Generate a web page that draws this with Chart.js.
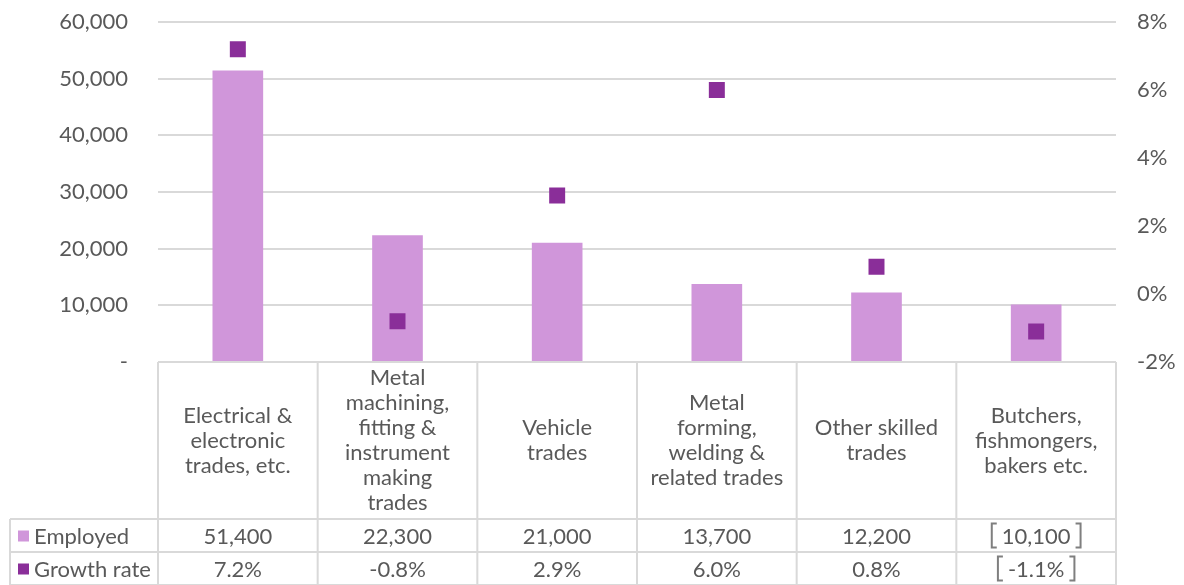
<!DOCTYPE html>
<html lang="en">
<head>
  <meta charset="UTF-8" />
  <title>Skilled trades - employment and growth</title>
  <script src="https://cdn.jsdelivr.net/npm/chart.js"></script>
  <style>
    body { margin: 0; background: #fff; }
    #wrap { width: 1184px; height: 585px; }
  </style>
</head>
<body>
  <div id="wrap"><canvas id="chart"></canvas></div>

  <script>
    // Datos
    const categories = [
      ['Electrical &', 'electronic', 'trades, etc.'],
      ['Metal', 'machining,', 'fitting &', 'instrument', 'making', 'trades'],
      ['Vehicle', 'trades'],
      ['Metal', 'forming,', 'welding &', 'related trades'],
      ['Other skilled', 'trades'],
      ['Butchers,', 'fishmongers,', 'bakers etc.']
    ];
    const employed = [51400, 22300, 21000, 13700, 12200, 10100];
    const growthRate = [7.2, -0.8, 2.9, 6.0, 0.8, -1.1];
    const bracketed = [false, false, false, false, false, true];  // valores entre corchetes
    const leftTicks = [0, 10000, 20000, 30000, 40000, 50000, 60000];
    const rightTicks = [-2, 0, 2, 4, 6, 8];

    const BAR_COLOR = '#D096DA';
    const POINT_COLOR = '#8A2E99';
    const GRID = '#D9D9D9';
    const TEXT = '#595959';
    const FONT = 'Lato, "Open Sans", sans-serif';
    const SIZE = 22;

    // tabla de datos debajo del grafico
    const dataTable = {
      id: 'dataTable',
      afterDraw(chart) {
        const ctx = chart.ctx;
        const x = chart.scales.x;
        const area = chart.chartArea;
        const top = area.bottom;
        const row1 = 519, row2 = 552, bottom = 585;
        const legendLeft = 10;
        const half = (x.getPixelForValue(1) - x.getPixelForValue(0)) / 2;

        ctx.save();
        ctx.strokeStyle = GRID;
        ctx.lineWidth = 2;
        ctx.beginPath();
        // lineas horizontales
        ctx.moveTo(area.left, top); ctx.lineTo(area.right, top);
        ctx.moveTo(legendLeft, row1); ctx.lineTo(area.right, row1);
        ctx.moveTo(legendLeft, row2); ctx.lineTo(area.right, row2);
        ctx.moveTo(legendLeft, bottom); ctx.lineTo(area.right, bottom);
        // lineas verticales
        ctx.moveTo(legendLeft, row1); ctx.lineTo(legendLeft, bottom);
        for (let i = 0; i <= categories.length; i++) {
          const px = x.getPixelForValue(0) - half + i * 2 * half;
          ctx.moveTo(px, top); ctx.lineTo(px, bottom);
        }
        ctx.stroke();

        ctx.fillStyle = TEXT;
        ctx.font = SIZE + 'px ' + FONT;
        ctx.textAlign = 'center';
        ctx.textBaseline = 'middle';
        const lineH = 25;
        categories.forEach((lines, i) => {
          const cx = x.getPixelForValue(i);
          const cy = (top + row1) / 2;
          const start = cy - (lines.length - 1) * lineH / 2;
          lines.forEach((t, j) => ctx.fillText(t, cx, start + j * lineH));

          const empTxt = employed[i].toLocaleString('en-US');
          const grTxt = growthRate[i].toFixed(1) + '%';
          ctx.fillText(empTxt, cx, (row1 + row2) / 2 + 1);
          ctx.fillText(grTxt, cx, (row2 + bottom) / 2 + 1);

          if (bracketed[i]) {
            [[empTxt, (row1 + row2) / 2], [grTxt, (row2 + bottom) / 2]].forEach(([t, cy2]) => {
              const w = ctx.measureText(t).width;
              const l = cx - w / 2 - 10, r = cx + w / 2 + 10;
              ctx.strokeStyle = '#7F7F7F';
              ctx.lineWidth = 2;
              ctx.beginPath();
              ctx.moveTo(l + 5, cy2 - 12); ctx.lineTo(l, cy2 - 12); ctx.lineTo(l, cy2 + 12); ctx.lineTo(l + 5, cy2 + 12);
              ctx.moveTo(r - 5, cy2 - 12); ctx.lineTo(r, cy2 - 12); ctx.lineTo(r, cy2 + 12); ctx.lineTo(r - 5, cy2 + 12);
              ctx.stroke();
            });
          }
        });

        // leyenda
        ctx.textAlign = 'left';
        ctx.fillStyle = BAR_COLOR;
        ctx.fillRect(18, (row1 + row2) / 2 - 5, 11, 11);
        ctx.fillStyle = POINT_COLOR;
        ctx.fillRect(18, (row2 + bottom) / 2 - 5, 11, 11);
        ctx.fillStyle = TEXT;
        ctx.fillText('Employed', 34, (row1 + row2) / 2 + 1);
        ctx.fillText('Growth rate', 34, (row2 + bottom) / 2 + 1);
        ctx.restore();
      }
    };

    new Chart(document.getElementById('chart'), {
      data: {
        labels: categories.map(c => c.join(' ')),
        datasets: [
          {
            type: 'line',
            label: 'Growth rate',
            data: growthRate,
            yAxisID: 'y1',
            showLine: false,
            pointStyle: 'rect',
            pointRadius: 11.3,
            pointHoverRadius: 11.3,
            pointBackgroundColor: POINT_COLOR,
            pointBorderWidth: 0,
            order: 0
          },
          {
            type: 'bar',
            label: 'Employed',
            data: employed,
            yAxisID: 'y',
            backgroundColor: BAR_COLOR,
            barThickness: 50,
            order: 1
          }
        ]
      },
      options: {
        responsive: true,
        maintainAspectRatio: false,
        animation: false,
        layout: { padding: { top: 22, bottom: 223, left: 0, right: 0 } },
        plugins: { legend: { display: false }, tooltip: { enabled: false } },
        scales: {
          x: {
            display: false,
            offset: true,
            grid: { display: false }
          },
          y: {
            position: 'left',
            min: 0,
            max: 60000,
            afterFit(s) { s.width = 158; s.paddingTop = 0; s.paddingBottom = 0; },
            afterBuildTicks(s) { s.ticks = leftTicks.map(v => ({ value: v })); },
            border: { display: false },
            grid: { color: GRID, lineWidth: 2, drawTicks: false },
            ticks: {
              padding: 30,
              color: TEXT,
              font: { family: FONT, size: SIZE },
              callback: v => v === 0 ? '-' : v.toLocaleString('en-US')
            }
          },
          y1: {
            position: 'right',
            min: -2,
            max: 8,
            afterFit(s) { s.width = 68; s.paddingTop = 0; s.paddingBottom = 0; },
            afterBuildTicks(s) { s.ticks = rightTicks.map(v => ({ value: v })); },
            border: { display: false },
            grid: { drawOnChartArea: false, drawTicks: false },
            ticks: {
              padding: 21,
              color: TEXT,
              font: { family: FONT, size: SIZE },
              callback: v => v + '%'
            }
          }
        }
      },
      plugins: [dataTable]
    });
  </script>
</body>
</html>
